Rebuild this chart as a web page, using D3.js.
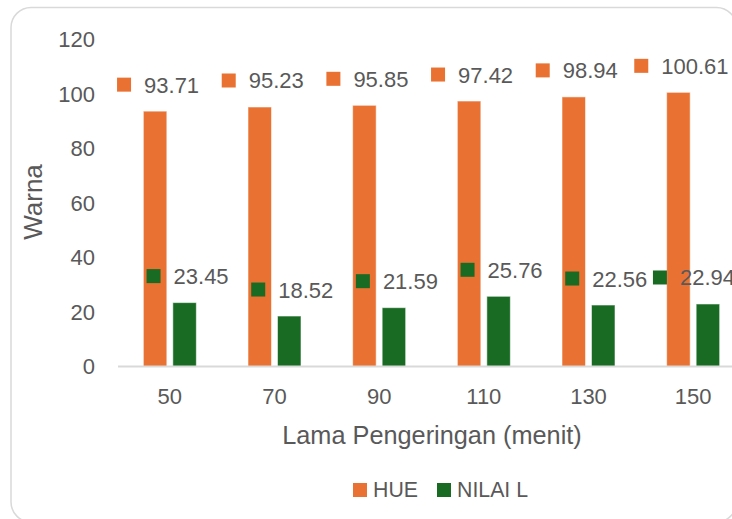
<!DOCTYPE html>
<html>
<head>
<meta charset="utf-8">
<script src="https://cdn.jsdelivr.net/npm/d3@7/dist/d3.min.js"></script>
<style>
  html, body { margin: 0; padding: 0; background: #fff; }
  svg { display: block; font-family: "Liberation Sans", Arial, sans-serif; }
</style>
</head>
<body>
<svg id="chart" width="732" height="519"></svg>
<script>
// Drying time (minutes) and measured colour values
const categories = ["50", "70", "90", "110", "130", "150"];
const hueValues = [93.71, 95.23, 95.85, 97.42, 98.94, 100.61];
const lValues = [23.45, 18.52, 21.59, 25.76, 22.56, 22.94];
const yTicks = [0, 20, 40, 60, 80, 100, 120];
const seriesNames = ["HUE", "NILAI L"];
const seriesColors = ["#E97132", "#196B24"];

const series = [
  { name: seriesNames[0], color: seriesColors[0], values: hueValues },
  { name: seriesNames[1], color: seriesColors[1], values: lValues }
];

const svg = d3.select("#chart");
const textColor = "#595959";
const lineColor = "#d9d9d9";

// Outer rounded frame
svg.append("rect")
  .attr("x", 11).attr("y", 7.5)
  .attr("width", 725.5).attr("height", 514.5)
  .attr("rx", 20).attr("ry", 20)
  .attr("fill", "#fff")
  .attr("stroke", lineColor)
  .attr("stroke-width", 1.5);

// Scales
const x = d3.scaleBand().domain(categories).range([117.5, 745.5]).padding(0);
const xs = d3.scaleBand().domain(seriesNames).range([0, 53]).paddingInner(0.203).paddingOuter(0);
const y = d3.scaleLinear().domain([0, 120]).range([366.5, 39.5]);

// Y axis labels
svg.append("g").selectAll("text")
  .data(yTicks).join("text")
  .attr("x", 95)
  .attr("y", d => y(d))
  .attr("dy", "0.36em")
  .attr("text-anchor", "end")
  .attr("fill", textColor)
  .attr("font-size", 22)
  .text(d => d);

// Bars
const groups = svg.append("g").selectAll("g")
  .data(series).join("g")
  .attr("fill", d => d.color);

groups.selectAll("rect")
  .data(s => s.values.map((v, i) => ({ v, cat: categories[i], name: s.name })))
  .join("rect")
  .attr("x", d => x(d.cat) + x.bandwidth() / 2 - 26.5 + xs(d.name))
  .attr("y", d => y(d.v))
  .attr("width", xs.bandwidth())
  .attr("height", d => y(0) - y(d.v))
  .attr("stroke", "rgba(255,255,255,0.55)")
  .attr("stroke-width", 1);

// Category axis line
svg.append("line")
  .attr("x1", 118).attr("x2", 732)
  .attr("y1", y(0)).attr("y2", y(0))
  .attr("stroke", lineColor)
  .attr("stroke-width", 2);

// Category labels
svg.append("g").selectAll("text")
  .data(categories).join("text")
  .attr("x", d => x(d) + x.bandwidth() / 2)
  .attr("y", 404)
  .attr("text-anchor", "middle")
  .attr("fill", textColor)
  .attr("font-size", 22)
  .text(d => d);

// Data labels with legend keys (kept inside the chart's right edge)
const fmt = d3.format(".2f");
const labelRightLimit = 735;
series.forEach(s => {
  s.values.forEach((v, i) => {
    const cx = x(categories[i]) + x.bandwidth() / 2 - 26.5 + xs(s.name) + xs.bandwidth() / 2 + 3;
    const top = y(v);
    const g = svg.append("g");
    const t = g.append("text")
      .attr("y", top - 18.5)
      .attr("fill", textColor)
      .attr("font-size", 22)
      .text(fmt(v));
    const tw = t.node().getComputedTextLength();
    const total = 14 + 13 + tw;
    let left = cx - total / 2;
    if (left + total > labelRightLimit) left = labelRightLimit - total;
    t.attr("x", left + 27);
    g.insert("rect", "text")
      .attr("x", left)
      .attr("y", top - 33.5)
      .attr("width", 14).attr("height", 14)
      .attr("fill", s.color);
  });
});

// Axis titles
svg.append("text")
  .attr("x", 432)
  .attr("y", 444)
  .attr("text-anchor", "middle")
  .attr("fill", textColor)
  .attr("font-size", 25.3)
  .text("Lama Pengeringan (menit)");

svg.append("text")
  .attr("transform", "translate(42,202) rotate(-90)")
  .attr("text-anchor", "middle")
  .attr("fill", textColor)
  .attr("font-size", 26)
  .text("Warna");

// Legend
const legend = svg.append("g");
const legendItems = [
  { name: seriesNames[0], color: seriesColors[0], x: 353 },
  { name: seriesNames[1], color: seriesColors[1], x: 437 }
];
legendItems.forEach(d => {
  legend.append("rect")
    .attr("x", d.x).attr("y", 483)
    .attr("width", 14).attr("height", 14)
    .attr("fill", d.color);
  legend.append("text")
    .attr("x", d.x + 20)
    .attr("y", 497)
    .attr("fill", textColor)
    .attr("font-size", 21.3)
    .text(d.name);
});
</script>
</body>
</html>
